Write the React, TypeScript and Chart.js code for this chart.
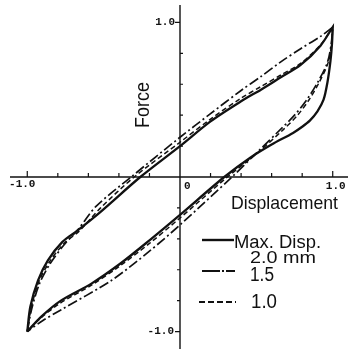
import React, { useEffect, useRef } from "react";
import { Chart, registerables } from "chart.js";

Chart.register(...registerables);

// Normalised hysteresis loops (displacement / force), one per maximum displacement.
// "Load" runs from (-1,-1) up to (1,1); "Unload" runs from (1,1) back to (-1,-1).
const amp20LoadX = [-1.0, -0.98, -0.93, -0.865, -0.77, -0.67, -0.52, -0.26, 0.0, 0.2, 0.4, 0.53, 0.66, 0.79, 0.92, 1.0];
const amp20LoadY = [-1.0, -0.84, -0.67, -0.54, -0.42, -0.345, -0.225, 0.0, 0.2, 0.36, 0.49, 0.565, 0.645, 0.725, 0.85, 0.97];
const amp20UnloadX = [1.0, 0.995, 0.985, 0.965, 0.94, 0.9, 0.85, 0.8, 0.74, 0.6, 0.46, 0.29, 0.0, -0.2, -0.39, -0.58, -0.78, -0.91, -1.0];
const amp20UnloadY = [0.97, 0.86, 0.75, 0.61, 0.5, 0.425, 0.365, 0.325, 0.285, 0.21, 0.125, 0.0, -0.245, -0.41, -0.56, -0.69, -0.8, -0.905, -1.0];

const amp15LoadX = [-1.0, -0.97, -0.92, -0.85, -0.76, -0.66, -0.55, -0.32, 0.0, 0.2, 0.4, 0.53, 0.66, 0.79, 0.92, 1.0];
const amp15LoadY = [-1.0, -0.85, -0.69, -0.56, -0.44, -0.33, -0.19, 0.0, 0.257, 0.41, 0.56, 0.65, 0.745, 0.83, 0.91, 0.97];
const amp15UnloadX = [1.0, 0.99, 0.965, 0.9, 0.83, 0.75, 0.66, 0.5, 0.34, 0.0, -0.2, -0.45, -0.78, -0.9, -1.0];
const amp15UnloadY = [0.97, 0.86, 0.74, 0.61, 0.5, 0.4, 0.31, 0.155, 0.0, -0.31, -0.48, -0.67, -0.86, -0.93, -1.0];

const amp10LoadX = [-1.0, -0.975, -0.925, -0.855, -0.76, -0.66, -0.52, -0.3, 0.0, 0.2, 0.4, 0.53, 0.66, 0.79, 0.92, 1.0];
const amp10LoadY = [-1.0, -0.85, -0.68, -0.55, -0.43, -0.35, -0.2, 0.0, 0.225, 0.375, 0.51, 0.585, 0.66, 0.735, 0.855, 0.97];
const amp10UnloadX = [1.0, 0.993, 0.97, 0.91, 0.845, 0.77, 0.68, 0.5, 0.31, 0.0, -0.2, -0.4, -0.58, -0.79, -0.92, -1.0];
const amp10UnloadY = [0.97, 0.86, 0.74, 0.61, 0.5, 0.4, 0.31, 0.15, 0.0, -0.265, -0.43, -0.58, -0.7, -0.82, -0.92, -1.0];

const legendLabels = ["1.5", "1.0"];
const axisTicks = [-1.0, -0.8, -0.6, -0.4, -0.2, 0.2, 0.4, 0.6, 0.8, 1.0];

const INK = "#111";
const TEXT_FONT = '"Liberation Sans Narrow", "Liberation Sans", Arial, sans-serif';
const TICK_FONT = 'bold 11px "Liberation Mono", "DejaVu Sans Mono", monospace';

const toPoints = (xs: number[], ys: number[]) => xs.map((x, i) => ({ x, y: ys[i] }));
// The tip point appears twice (end of load, start of unload), which keeps a sharp corner there.
const loop = (lx: number[], ly: number[], ux: number[], uy: number[]) => [
  ...toPoints(lx, ly),
  ...toPoints(ux, uy),
];

// Text squeezed to a given width so the narrow lettering keeps its proportions.
function fitText(
  ctx: CanvasRenderingContext2D,
  text: string,
  x: number,
  y: number,
  font: string,
  width: number
) {
  ctx.save();
  ctx.font = font;
  const w = ctx.measureText(text).width || 1;
  ctx.translate(x, y);
  ctx.scale(width / w, 1);
  ctx.textAlign = "left";
  ctx.textBaseline = "alphabetic";
  ctx.fillStyle = INK;
  ctx.fillText(text, 0, 0);
  ctx.restore();
}

const crossAxes = {
  id: "crossAxes",
  beforeDatasetsDraw(chart: any) {
    const { ctx, chartArea, scales } = chart;
    const xs = scales.x;
    const ys = scales.y;
    const ox = xs.getPixelForValue(0);
    const oy = ys.getPixelForValue(0);
    ctx.save();
    ctx.strokeStyle = INK;
    ctx.lineWidth = 1.4;
    ctx.beginPath();
    ctx.moveTo(chartArea.left - 2, oy);
    ctx.lineTo(chartArea.right, oy);
    ctx.moveTo(ox, chartArea.top - 2);
    ctx.lineTo(ox, chart.height);
    ctx.stroke();

    ctx.lineWidth = 1.2;
    ctx.beginPath();
    for (const t of axisTicks) {
      // ticks on the displacement axis point upward
      const px = xs.getPixelForValue(t);
      const len = Math.abs(t) === 1 ? 6 : 4;
      ctx.moveTo(px, oy);
      ctx.lineTo(px, oy - len);
      // ticks on the force axis: right in the upper half, left in the lower half,
      // and toward the label at the ends
      const py = ys.getPixelForValue(t);
      if (Math.abs(t) === 1) {
        ctx.moveTo(ox, py);
        ctx.lineTo(ox - 5, py);
      } else if (t > 0) {
        ctx.moveTo(ox, py);
        ctx.lineTo(ox + 3, py);
      } else {
        ctx.moveTo(ox, py);
        ctx.lineTo(ox - 3, py);
      }
    }
    ctx.stroke();

    ctx.fillStyle = INK;
    ctx.font = TICK_FONT;
    ctx.textBaseline = "middle";
    ctx.textAlign = "right";
    ctx.fillText("1.0", ox - 5, ys.getPixelForValue(1));
    ctx.fillText("-1.0", ox - 6, ys.getPixelForValue(-1));
    ctx.textBaseline = "alphabetic";
    ctx.textAlign = "center";
    ctx.fillText("-1.0", xs.getPixelForValue(-1) - 5, oy + 10);
    ctx.fillText("1.0", xs.getPixelForValue(1) + 3, oy + 12);
    ctx.textAlign = "left";
    ctx.fillText("0", ox + 4, oy + 12);
    ctx.restore();
  },
  afterDraw(chart: any) {
    const { ctx, scales } = chart;
    const ox = scales.x.getPixelForValue(0);
    const oy = scales.y.getPixelForValue(0);

    // axis titles
    fitText(ctx, "Displacement", ox + 51, oy + 32, `19px ${TEXT_FONT}`, 107);
    ctx.save();
    ctx.translate(ox - 31, oy - 72);
    ctx.rotate(-Math.PI / 2);
    ctx.font = `21px ${TEXT_FONT}`;
    const fw = ctx.measureText("Force").width || 1;
    ctx.scale(46 / fw, 1);
    ctx.fillStyle = INK;
    ctx.textAlign = "center";
    ctx.textBaseline = "alphabetic";
    ctx.fillText("Force", 0, 0);
    ctx.restore();

    // legend
    const ds = chart.data.datasets;
    const rows = [
      { y: oy + 63, x0: ox + 22, x1: ox + 54 },
      { y: oy + 94, x0: ox + 22, x1: ox + 55 },
      { y: oy + 125, x0: ox + 19, x1: ox + 56 },
    ];
    rows.forEach((r, i) => {
      ctx.save();
      ctx.strokeStyle = INK;
      ctx.lineWidth = i === 0 ? 2.4 : 1.8;
      ctx.setLineDash(i === 0 ? [] : i === 1 ? [18, 2, 2, 2] : [6, 3]);
      ctx.beginPath();
      ctx.moveTo(r.x0, r.y);
      ctx.lineTo(r.x1, r.y);
      ctx.stroke();
      ctx.restore();
    });
    fitText(ctx, ds[0].label.split("|")[0], ox + 54, oy + 71, `18px ${TEXT_FONT}`, 87);
    fitText(ctx, ds[0].label.split("|")[1], ox + 70, oy + 86, `17px ${TEXT_FONT}`, 66);
    fitText(ctx, legendLabels[0], ox + 70, oy + 104, `20px ${TEXT_FONT}`, 24);
    fitText(ctx, legendLabels[1], ox + 71, oy + 131, `20px ${TEXT_FONT}`, 26);
  },
};

export default function App() {
  const canvasRef = useRef<HTMLCanvasElement | null>(null);

  useEffect(() => {
    const canvas = canvasRef.current;
    if (!canvas) return;
    const common = {
      showLine: true,
      pointRadius: 0,
      pointHoverRadius: 0,
      borderColor: INK,
      backgroundColor: INK,
      fill: false,
      tension: 0.3,
    };
    const chart = new Chart(canvas, {
      type: "scatter",
      data: {
        datasets: [
          {
            ...common,
            label: "Max. Disp.|2.0 mm",
            data: loop(amp20LoadX, amp20LoadY, amp20UnloadX, amp20UnloadY),
            borderWidth: 2.3,
          },
          {
            ...common,
            label: legendLabels[0],
            data: loop(amp15LoadX, amp15LoadY, amp15UnloadX, amp15UnloadY),
            borderWidth: 1.7,
            borderDash: [10, 3, 2, 3],
          },
          {
            ...common,
            label: legendLabels[1],
            data: loop(amp10LoadX, amp10LoadY, amp10UnloadX, amp10UnloadY),
            borderWidth: 1.5,
            borderDash: [5, 3],
          },
        ],
      },
      options: {
        animation: false,
        responsive: false,
        maintainAspectRatio: false,
        events: [],
        layout: { padding: { left: 12, right: 4, top: 7, bottom: 2 } },
        plugins: { legend: { display: false }, tooltip: { enabled: false } },
        scales: {
          x: { type: "linear", min: -1.1, max: 1.1, display: false },
          y: { type: "linear", min: -1.1, max: 1.1, display: false },
        },
      },
      plugins: [crossAxes],
    } as any);
    return () => chart.destroy();
  }, []);

  return (
    <div style={{ position: "absolute", left: 0, top: 0, width: 352, height: 349, background: "#fff" }}>
      <canvas ref={canvasRef} width={352} height={349} style={{ display: "block" }} />
    </div>
  );
}
